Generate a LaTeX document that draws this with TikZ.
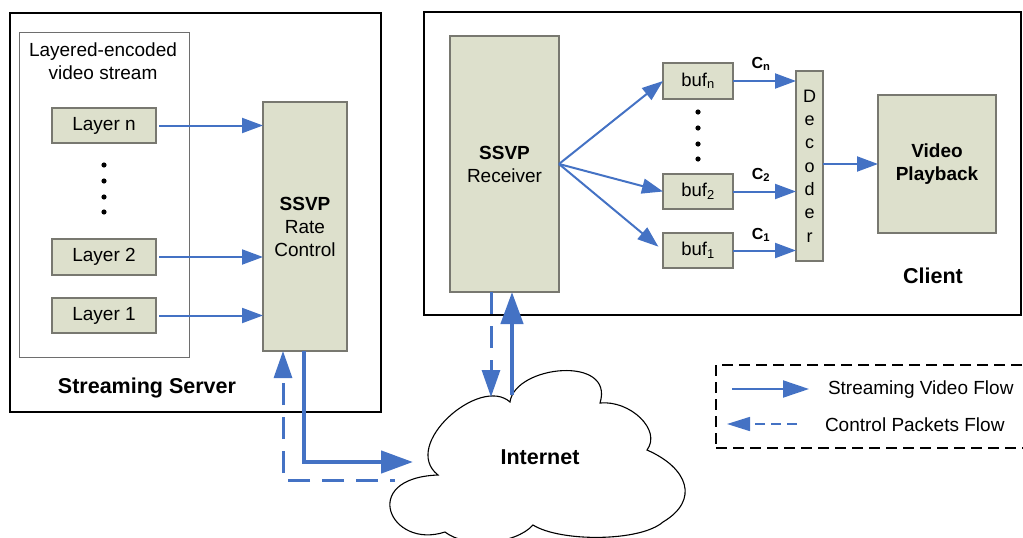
\documentclass[tikz,border=0pt]{standalone}
\usepackage{fontspec}
\setmainfont{Liberation Sans}
\usetikzlibrary{arrows.meta,calc}
\definecolor{flowblue}{RGB}{68,114,196}
\definecolor{boxfill}{RGB}{221,224,204}
\definecolor{boxline}{RGB}{120,120,112}
\definecolor{framegray}{RGB}{110,110,110}

\begin{document}
\begin{tikzpicture}[x=1pt,y=-1pt,
  every node/.style={inner sep=0pt,outer sep=0pt},
  blk/.style={draw=boxline,fill=boxfill,line width=1.2pt,align=center,
              font=\fontsize{19}{23}\selectfont},
  frame/.style={draw=black,line width=2pt},
  inframe/.style={draw=framegray,line width=0.9pt},
  label/.style={font=\fontsize{21.5}{25}\selectfont\bfseries},
  txt/.style={font=\fontsize{19}{23}\selectfont,align=center},
  flow/.style={draw=flowblue,line width=2pt,-{Triangle[length=21pt,width=15pt]}},
  bigflow/.style={draw=flowblue,line width=4.5pt,-{Triangle[length=32pt,width=22pt]}},
  ctrl/.style={draw=flowblue,line width=3pt,dash pattern=on 22pt off 12pt,
               -{Triangle[length=27pt,width=18pt]}},
  legctrl/.style={draw=flowblue,line width=1.6pt,dash pattern=on 10pt off 6pt,
               -{Triangle[length=23pt,width=14pt]}},
  legframe/.style={draw=black,line width=2pt,dash pattern=on 11pt off 6pt},
  dot/.style={fill=black}
]
\useasboundingbox (0,0) rectangle (1023,538);
\clip (0,0) rectangle (1023,538);

% ---------------- streaming server ----------------
\node[frame,minimum width=371pt,minimum height=399pt] (server) at (195.5,212.5) {};
\node[inframe,minimum width=170pt,minimum height=325pt] (stream) at (104,194.5) {};
\node[txt] (streamtitle) at (103,61.5) {Layered-encoded\\video stream};

\node[blk,minimum width=104pt,minimum height=35pt] (ln) at (104,125.5) {Layer n};
\node[blk,minimum width=104pt,minimum height=36pt] (l2) at (104,257) {Layer 2};
\node[blk,minimum width=104pt,minimum height=35pt] (l1) at (104,315.5) {Layer 1};
\foreach \yy in {165,181,197,212} \fill[dot] (104,\yy) circle (2.6pt);

\node[blk,minimum width=84pt,minimum height=249pt] (rc) at (305,226.5)
  {\textbf{SSVP}\\Rate\\Control};

\draw[flow,shorten <=3pt] (ln.east) -- (ln.east -| rc.west);
\draw[flow,shorten <=3pt] (l2.east) -- (l2.east -| rc.west);
\draw[flow,shorten <=3pt] (l1.east) -- (l1.east -| rc.west);

\node[label] (servername) at (147,388) {Streaming Server};

% ---------------- client ----------------
\node[frame,minimum width=597pt,minimum height=303pt] (client) at (722.5,163.5) {};
\node[blk,minimum width=109pt,minimum height=256pt] (rec) at (504.5,164)
  {\textbf{SSVP}\\Receiver};

\node[blk,minimum width=70pt,minimum height=36pt,font=\fontsize{18.5}{22}\selectfont]
  (bufn) at (698,81) {buf\textsubscript{n}};
\node[blk,minimum width=70pt,minimum height=35pt,font=\fontsize{18.5}{22}\selectfont]
  (buf2) at (698,191.5) {buf\textsubscript{2}};
\node[blk,minimum width=70pt,minimum height=35pt,font=\fontsize{18.5}{22}\selectfont]
  (buf1) at (698,250.5) {buf\textsubscript{1}};
\foreach \yy in {112,128,144,159} \fill[dot] (698,\yy) circle (2.6pt);

\node[blk,minimum width=27pt,minimum height=190pt,font=\fontsize{18}{23.3}\selectfont]
  (dec) at (809.5,166) {D\\e\\c\\o\\d\\e\\r};
\node[blk,minimum width=118pt,minimum height=138pt,font=\fontsize{19}{23}\selectfont\bfseries]
  (play) at (937,164) {Video\\Playback};

\draw[flow] (rec.east) -- (bufn.west);
\draw[flow] (rec.east) -- (buf2.west);
\draw[flow,shorten >=6pt] (rec.east) -- (buf1.west);

\draw[flow] (bufn.east) -- (bufn.east -| dec.west);
\draw[flow] (buf2.east) -- (buf2.east -| dec.west);
\draw[flow] (buf1.east) -- (buf1.east -| dec.west);
\draw[flow] (dec.east |- play.west) -- (play.west);

\node[font=\fontsize{16}{18}\selectfont\bfseries] (cn) at (761,64) {C\textsubscript{n}};
\node[font=\fontsize{16}{18}\selectfont\bfseries] (c2) at (761,175) {C\textsubscript{2}};
\node[font=\fontsize{16}{18}\selectfont\bfseries] (c1) at (761,235) {C\textsubscript{1}};

\node[label] (clientname) at (933,276) {Client};

% ---------------- internet cloud ----------------
\draw[line width=1.1pt,fill=white]
  (510,402) .. controls (515,365) and (615,355) .. (600,403)
  .. controls (630,400) and (662,430) .. (647,450)
  .. controls (688,468) and (700,500) .. (663,522)
  .. controls (640,542) and (560,542) .. (533,525)
  .. controls (515,545) and (465,548) .. (445,532)
  .. controls (390,550) and (358,478) .. (438,475)
  .. controls (400,445) and (480,375) .. cycle;
\node[label] (net) at (540,457) {Internet};

% ---------------- network paths ----------------
\coordinate (netin) at (413,462);
\coordinate (netout) at (395,480);
\coordinate (netdown) at (491,397);
\coordinate (nettop) at (512,395);

\draw[bigflow] ([xshift=-1pt]rc.south) |- (netin);
\draw[ctrl,dash phase=17pt] (netout) -| ([xshift=-22pt]rc.south);
\draw[ctrl] (rec.south -| netdown) -- (netdown);
\draw[bigflow] (nettop) -- (nettop |- rec.south);

% ---------------- legend ----------------
\node[legframe,minimum width=324pt,minimum height=83pt] (legend) at (878,406.5) {};
\coordinate (lsa) at (732,389);
\coordinate (lsb) at (809,389);
\coordinate (lca) at (797,424);
\coordinate (lcb) at (727,424);
\draw[draw=flowblue,line width=2pt,-{Triangle[length=26pt,width=17pt]}] (lsa) -- (lsb);
\draw[legctrl] (lca) -- (lcb);
\node[txt,anchor=west] (lstext) at (828,390) {Streaming Video Flow};
\node[txt,anchor=west] (lctext) at (825,425) {Control Packets Flow};
\end{tikzpicture}
\end{document}
